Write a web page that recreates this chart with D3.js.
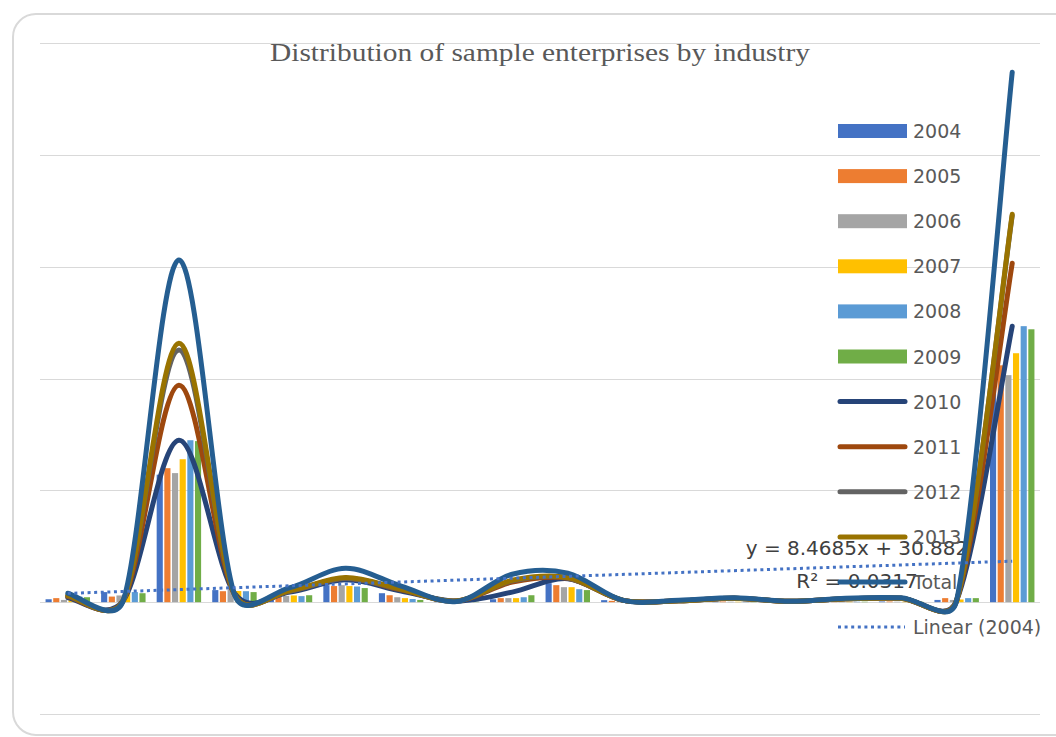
<!DOCTYPE html>
<html>
<head>
<meta charset="utf-8">
<script src="https://cdn.jsdelivr.net/npm/d3@7"></script>
<style>
  html, body { margin: 0; padding: 0; background: #ffffff; }
  svg { display: block; }
</style>
</head>
<body>
<svg id="chart" width="1056" height="737"></svg>
<script>
// Industry categories (18 industries, numbered as in the survey)
const industries = ["1","2","3","4","5","6","7","8","9","10","11","12","13","14","15","16","17","18"];

// Column series: number of sample enterprises per industry
const barYears = ["2004", "2005", "2006", "2007", "2008", "2009"];
const v2004 = [13, 45, 570, 54, 25, 76, 40, 4, 13, 85, 9, 2, 3, 1, 2, 3, 10, 1045];
const v2005 = [18, 25, 599, 49, 25, 72, 31, 3, 18, 76, 6, 2, 3, 1, 2, 3, 18, 1059];
const v2006 = [10, 30, 577, 58, 28, 76, 22, 3, 18, 67, 4, 1, 2, 1, 2, 2, 10, 1015];
const v2007 = [20, 45, 639, 50, 30, 72, 18, 2, 18, 67, 3, 1, 2, 1, 2, 2, 12, 1113];
const v2008 = [25, 45, 724, 49, 27, 70, 14, 2, 22, 58, 2, 1, 2, 1, 2, 2, 18, 1234];
const v2009 = [22, 40, 720, 45, 31, 63, 10, 2, 31, 54, 2, 1, 2, 1, 2, 2, 18, 1220];

// Smoothed line series
const lineNames = ["2010", "2011", "2012", "2013", "Total"];
const v2010  = [20, 8, 724, 40, 45, 100, 50, 5, 45, 105, 8, 6, 18, 4, 15, 18, 8, 1234];
const v2011  = [25, 8, 970, 35, 50, 107, 55, 5, 90, 107, 8, 6, 18, 4, 15, 18, 8, 1515];
const v2012  = [28, 8, 1127, 35, 50, 107, 57, 5, 95, 108, 8, 6, 18, 4, 15, 18, 8, 1728];
const v2013  = [30, 8, 1158, 35, 52, 110, 58, 5, 98, 110, 8, 6, 18, 4, 15, 18, 8, 1734];
const vTotal = [40, 8, 1530, 35, 65, 152, 72, 3, 125, 130, 8, 9, 20, 4, 18, 20, 8, 2369];

// Linear trend fitted to the 2004 series: y = slope * x + intercept (x = 1..18)
const trendSlope = 8.4685;
const trendIntercept = 30.882;
const trendR2 = 0.0317;

// Value axis gridlines
const yTicks = [-500, 0, 500, 1000, 1500, 2000, 2500];

const barValues = [v2004, v2005, v2006, v2007, v2008, v2009];
const lineValues = [v2010, v2011, v2012, v2013, vTotal];

const barColors = ["#4472C4", "#ED7D31", "#A5A5A5", "#FFC000", "#5B9BD5", "#70AD47"];
const lineColors = ["#264478", "#9E480E", "#636363", "#997300", "#255E91"];
const trendColor = "#4472C4";

const svg = d3.select("#chart");

// Outer chart frame (rounded, open on the right)
svg.append("path")
  .attr("d", "M1056,14 H36 A23,23 0 0 0 13,37 V712 A23,23 0 0 0 36,735 H1056")
  .attr("fill", "none")
  .attr("stroke", "#d9d9d9")
  .attr("stroke-width", 2);

const plot = { left: 40, right: 1040, top: 43, bottom: 714 };

const x0 = d3.scaleBand()
  .domain(industries)
  .range([plot.left, plot.right])
  .paddingInner(0.2)
  .paddingOuter(0.1);

const x1 = d3.scaleBand()
  .domain(barYears)
  .range([0, x0.bandwidth()])
  .paddingInner(0.2);

const y = d3.scaleLinear()
  .domain([d3.min(yTicks), d3.max(yTicks)])
  .range([plot.bottom, plot.top]);

const cx = d => x0(d) + x0.bandwidth() / 2;

// Horizontal gridlines
svg.append("g")
  .selectAll("line")
  .data(yTicks)
  .join("line")
  .attr("x1", plot.left)
  .attr("x2", plot.right)
  .attr("y1", d => Math.round(y(d)) + 0.5)
  .attr("y2", d => Math.round(y(d)) + 0.5)
  .attr("stroke", "#d9d9d9")
  .attr("stroke-width", 1.2);

// Title
svg.append("text")
  .attr("x", 540)
  .attr("y", 61)
  .attr("text-anchor", "middle")
  .attr("font-family", "'Liberation Serif', 'DejaVu Serif', serif")
  .attr("font-size", 25)
  .attr("fill", "#595959")
  .attr("textLength", 540)
  .attr("lengthAdjust", "spacingAndGlyphs")
  .text("Distribution of sample enterprises by industry");

// Trendline equation label
const eqX = 857;
const eqLabel = svg.append("text")
  .attr("text-anchor", "middle")
  .attr("font-family", "'DejaVu Sans', sans-serif")
  .attr("font-size", 20)
  .attr("fill", "#404040");
eqLabel.append("tspan")
  .attr("x", eqX).attr("y", 555)
  .text(`y = ${trendSlope}x + ${trendIntercept}`);
eqLabel.append("tspan")
  .attr("x", eqX).attr("y", 588)
  .text(`R² = ${trendR2}`);

// Legend
const legendItems = [
  ...barYears.map((name, i) => ({ name, kind: "bar", color: barColors[i] })),
  ...lineNames.map((name, i) => ({ name, kind: "line", color: lineColors[i] })),
  { name: "Linear (2004)", kind: "trend", color: trendColor }
];
const legend = svg.append("g");
const legendRow = d3.scaleLinear().domain([0, 1]).range([131, 176.1]);
const item = legend.selectAll("g")
  .data(legendItems)
  .join("g")
  .attr("transform", (d, i) => `translate(0,${legendRow(i)})`);
item.filter(d => d.kind === "bar").append("rect")
  .attr("x", 838).attr("y", -7).attr("width", 69).attr("height", 14)
  .attr("fill", d => d.color);
item.filter(d => d.kind === "line").append("line")
  .attr("x1", 840).attr("x2", 905).attr("y1", 0).attr("y2", 0)
  .attr("stroke", d => d.color).attr("stroke-width", 5)
  .attr("stroke-linecap", "round");
item.filter(d => d.kind === "trend").append("line")
  .attr("x1", 838).attr("x2", 905).attr("y1", 0).attr("y2", 0)
  .attr("stroke", d => d.color).attr("stroke-width", 3)
  .attr("stroke-dasharray", "3 3.6");
item.append("text")
  .attr("x", 913).attr("y", 7)
  .attr("font-family", "'DejaVu Sans', sans-serif")
  .attr("font-size", 19)
  .attr("fill", "#595959")
  .text(d => d.name);

// Clustered columns
const barGroups = svg.append("g")
  .selectAll("g")
  .data(barValues)
  .join("g")
  .attr("fill", (d, i) => barColors[i]);
barGroups.selectAll("rect")
  .data((vals, si) => vals.map((v, ci) => ({ v, cat: industries[ci], year: barYears[si] })))
  .join("rect")
  .attr("x", d => x0(d.cat) + x1(d.year))
  .attr("width", x1.bandwidth())
  .attr("y", d => y(Math.max(0, d.v)))
  .attr("height", d => Math.abs(y(d.v) - y(0)));

// Smoothed line path in the style of spreadsheet "smoothed line" series:
// cubic Bezier segments with 1/6 tangents, each tangent capped at half the segment length.
function smoothPath(pts) {
  const n = pts.length;
  let d = `M${pts[0][0]},${pts[0][1]}`;
  for (let i = 0; i < n - 1; i++) {
    const p0 = pts[i - 1] || pts[i];
    const p1 = pts[i];
    const p2 = pts[i + 1];
    const p3 = pts[i + 2] || pts[i + 1];
    const seg = Math.hypot(p2[0] - p1[0], p2[1] - p1[1]);
    const cap = seg / 2;
    let t1 = [(p2[0] - p0[0]) / 6, (p2[1] - p0[1]) / 6];
    let t2 = [(p3[0] - p1[0]) / 6, (p3[1] - p1[1]) / 6];
    const l1 = Math.hypot(t1[0], t1[1]);
    const l2 = Math.hypot(t2[0], t2[1]);
    if (l1 > cap && l1 > 0) t1 = [t1[0] * cap / l1, t1[1] * cap / l1];
    if (l2 > cap && l2 > 0) t2 = [t2[0] * cap / l2, t2[1] * cap / l2];
    const c1 = [p1[0] + t1[0], p1[1] + t1[1]];
    const c2 = [p2[0] - t2[0], p2[1] - t2[1]];
    d += `C${c1[0]},${c1[1]} ${c2[0]},${c2[1]} ${p2[0]},${p2[1]}`;
  }
  return d;
}

svg.append("g")
  .selectAll("path")
  .data(lineValues)
  .join("path")
  .attr("d", vals => smoothPath(vals.map((v, i) => [cx(industries[i]), y(v)])))
  .attr("fill", "none")
  .attr("stroke", (d, i) => lineColors[i])
  .attr("stroke-width", 5)
  .attr("stroke-linecap", "round")
  .attr("stroke-linejoin", "round");

// Linear trendline for 2004
const first = 1, last = industries.length;
svg.append("line")
  .attr("x1", cx(industries[first - 1]))
  .attr("x2", cx(industries[last - 1]))
  .attr("y1", y(trendSlope * first + trendIntercept))
  .attr("y2", y(trendSlope * last + trendIntercept))
  .attr("stroke", trendColor)
  .attr("stroke-width", 3)
  .attr("stroke-dasharray", "3 3.6");
</script>
</body>
</html>
